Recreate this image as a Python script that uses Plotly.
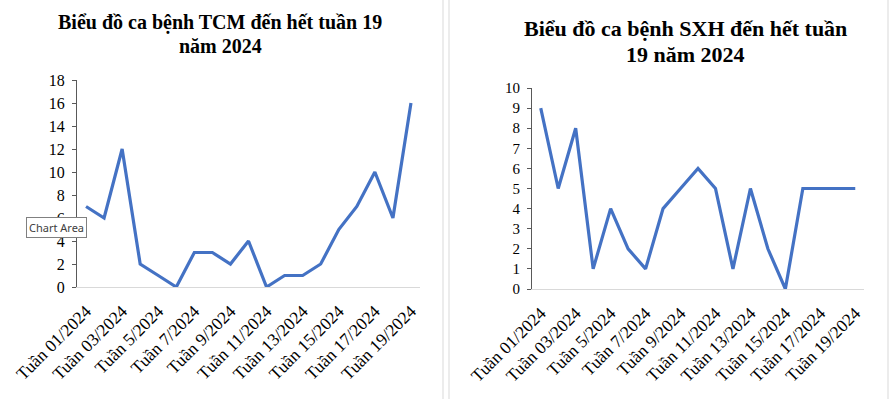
import plotly.graph_objects as go

weeks = ["Tuần 01/2024", "Tuần 02/2024", "Tuần 03/2024", "Tuần 04/2024", "Tuần 5/2024",
         "Tuần 6/2024", "Tuần 7/2024", "Tuần 8/2024", "Tuần 9/2024", "Tuần 10/2024",
         "Tuần 11/2024", "Tuần 12/2024", "Tuần 13/2024", "Tuần 14/2024", "Tuần 15/2024",
         "Tuần 16/2024", "Tuần 17/2024", "Tuần 18/2024", "Tuần 19/2024"]
tcm = [7, 6, 12, 2, 1, 0, 3, 3, 2, 4, 0, 1, 1, 2, 5, 7, 10, 6, 16]
sxh = [9, 5, 8, 1, 4, 2, 1, 4, 5, 6, 5, 1, 5, 2, 0, 5, 5, 5, 5]
shown_ticks = weeks[::2]
title_left = ["Biểu đồ ca bệnh TCM đến hết tuần 19", "năm 2024"]
title_right = ["Biểu đồ ca bệnh SXH đến hết tuần", "19 năm 2024"]

W, H = 890, 399
blue = "#4472C4"
serif = "Liberation Serif"

def px(x):
    return x / W

def py(y):
    return 1 - y / H

fig = go.Figure()
fig.add_trace(go.Scatter(x=weeks, y=tcm, mode="lines", line=dict(color=blue, width=3.2),
                         xaxis="x", yaxis="y", hoverinfo="skip"))
fig.add_trace(go.Scatter(x=weeks, y=sxh, mode="lines", line=dict(color=blue, width=3.2),
                         xaxis="x2", yaxis="y2", hoverinfo="skip"))

xcommon = dict(type="category", range=[-0.5, 18.5], tickvals=shown_ticks, ticktext=shown_ticks,
               tickangle=-45, showgrid=False, zeroline=False, showline=True,
               linecolor="#d9d9d9", linewidth=1, ticks="", fixedrange=True, automargin=False,
               ticklabelstandoff=6,
               tickfont=dict(family=serif, size=17.5, color="black"))
ycommon = dict(showgrid=False, zeroline=False, showline=True, linecolor="#595959", linewidth=1,
               ticks="outside", ticklen=4, tickcolor="#595959", fixedrange=True, automargin=False,
               ticklabelstandoff=4)

fig.update_layout(
    width=W, height=H, margin=dict(l=0, r=0, t=0, b=0, autoexpand=False),
    paper_bgcolor="white", plot_bgcolor="white", showlegend=False,
    xaxis=dict(domain=[px(77), px(420)], anchor="y", **xcommon),
    yaxis=dict(domain=[py(287), py(80)], anchor="x", range=[0, 18], dtick=2,
               tickfont=dict(family=serif, size=16, color="black"), **ycommon),
    xaxis2=dict(domain=[px(532), px(864)], anchor="y2", **xcommon),
    yaxis2=dict(domain=[py(289), py(88)], anchor="x2", range=[0, 10], dtick=1,
                tickfont=dict(family=serif, size=15, color="black"), **ycommon),
)

for txt, yy in zip(title_left, [22, 46]):
    fig.add_annotation(text="<b>" + txt + "</b>", x=px(220), y=py(yy), xref="paper", yref="paper",
                       xanchor="center", yanchor="middle", showarrow=False,
                       font=dict(family=serif, size=20, color="black"))
for txt, yy in zip(title_right, [28.5, 54]):
    fig.add_annotation(text="<b>" + txt + "</b>", x=px(685), y=py(yy), xref="paper", yref="paper",
                       xanchor="center", yanchor="middle", showarrow=False,
                       font=dict(family=serif, size=22, color="black"))
fig.add_annotation(text="Chart Area", x=px(56), y=py(227.5), xref="paper", yref="paper",
                   xanchor="center", yanchor="middle", showarrow=False,
                   font=dict(family="Noto Sans", size=11, color="#404040"),
                   bgcolor="white", bordercolor="#808080", borderwidth=1, borderpad=2)

fig.add_shape(type="line", xref="paper", yref="paper", x0=px(443), x1=px(443), y0=0, y1=1,
              line=dict(color="#d9d9d9", width=1))
fig.add_shape(type="line", xref="paper", yref="paper", x0=px(449), x1=px(449), y0=0, y1=1,
              line=dict(color="#d9d9d9", width=1))
fig.add_shape(type="line", xref="paper", yref="paper", x0=px(888), x1=px(888), y0=0, y1=1,
              line=dict(color="#d9d9d9", width=1))

fig.write_html("out.html", config={"displayModeBar": False},
               post_script="document.body.style.margin='0px';document.body.style.overflow='hidden';")
